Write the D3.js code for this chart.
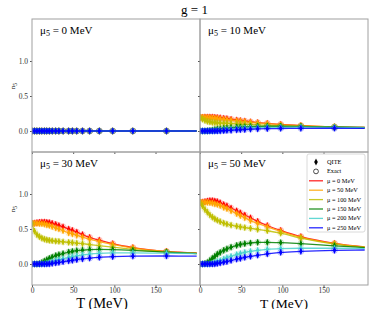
<!DOCTYPE html>
<html>
<head>
<meta charset="utf-8">
<script src="https://cdn.jsdelivr.net/npm/d3@7"></script>
<style>
  body { margin: 0; background: #fff; }
  text { font-family: "Liberation Serif", "DejaVu Serif", serif; }
</style>
</head>
<body>
<svg id="viz"></svg>
<script>
var width = 389;
var height = 309;

// temperatures (MeV) where the QITE / exact points sit; last one only closes the line
var temps = [0, 3, 6, 9, 12, 15, 18, 21, 24.5, 28.8, 32.7, 37.7, 44.5, 49, 54.4, 61.3, 70, 81.7, 98, 122.5, 163.3, 200];

var mu5Values = [0, 10, 30, 50];
var muValues = [0, 50, 100, 150, 200, 250];
var seriesColors = ["#ff0000", "#ffa500", "#bfbf00", "#008000", "#48d1cc", "#0000ff"];
var xTicks = [0, 50, 100, 150];
var yTicks = [0.0, 0.5, 1.0];

var zeroRow = [0, 0, 0, 0, 0, 0, 0, 0, 0, 0, 0, 0, 0, 0, 0, 0, 0, 0, 0, 0, 0, 0];
var n5_mu5_0 = [zeroRow, zeroRow, zeroRow, zeroRow, zeroRow, zeroRow];

var n5_mu5_10 = [
  [0.195,0.196,0.197,0.198,0.198,0.197,0.195,0.192,0.188,0.182,0.176,0.168,0.157,0.150,0.142,0.132,0.121,0.108,0.094,0.078,0.060,0.050],
  [0.195,0.195,0.194,0.192,0.190,0.187,0.183,0.179,0.174,0.168,0.162,0.155,0.146,0.140,0.133,0.125,0.115,0.104,0.091,0.076,0.059,0.050],
  [0.195,0.170,0.150,0.138,0.130,0.124,0.120,0.117,0.114,0.111,0.109,0.106,0.103,0.100,0.097,0.093,0.088,0.082,0.074,0.065,0.054,0.047],
  [0,0,0,0.002,0.007,0.013,0.020,0.026,0.032,0.038,0.043,0.048,0.054,0.057,0.060,0.063,0.066,0.068,0.068,0.065,0.057,0.050],
  [0,0,0,0,0,0.001,0.003,0.006,0.010,0.016,0.020,0.026,0.032,0.036,0.040,0.044,0.048,0.051,0.053,0.054,0.052,0.048],
  [0,0,0,0,0,0,0,0.001,0.002,0.005,0.007,0.010,0.015,0.018,0.021,0.025,0.029,0.033,0.036,0.038,0.039,0.038]
];

var n5_mu5_30 = [
  [0.580,0.585,0.590,0.595,0.600,0.600,0.595,0.590,0.580,0.565,0.550,0.530,0.500,0.480,0.455,0.420,0.380,0.340,0.290,0.235,0.180,0.157],
  [0.580,0.580,0.580,0.578,0.575,0.570,0.560,0.550,0.535,0.515,0.500,0.475,0.445,0.430,0.410,0.385,0.355,0.320,0.280,0.230,0.178,0.153],
  [0.580,0.470,0.420,0.390,0.370,0.355,0.345,0.338,0.332,0.326,0.322,0.317,0.310,0.305,0.298,0.290,0.278,0.262,0.240,0.210,0.170,0.150],
  [0,0,0,0.005,0.020,0.040,0.060,0.080,0.100,0.120,0.135,0.150,0.170,0.180,0.190,0.198,0.205,0.208,0.205,0.195,0.170,0.150],
  [0,0,0,0,0,0.003,0.010,0.020,0.032,0.048,0.060,0.075,0.095,0.105,0.117,0.130,0.142,0.152,0.158,0.160,0.155,0.148],
  [0,0,0,0,0,0,0,0.003,0.008,0.015,0.022,0.032,0.045,0.053,0.062,0.072,0.083,0.095,0.105,0.112,0.114,0.112]
];

var n5_mu5_50 = [
  [0.880,0.885,0.890,0.900,0.905,0.905,0.900,0.890,0.875,0.850,0.830,0.800,0.760,0.730,0.700,0.660,0.610,0.550,0.480,0.390,0.295,0.245],
  [0.880,0.880,0.880,0.880,0.875,0.870,0.860,0.850,0.835,0.810,0.790,0.760,0.720,0.690,0.660,0.620,0.580,0.530,0.465,0.380,0.290,0.240],
  [0.880,0.830,0.780,0.740,0.700,0.670,0.645,0.625,0.605,0.585,0.570,0.555,0.540,0.530,0.520,0.510,0.495,0.475,0.440,0.370,0.285,0.240],
  [0,0,0.005,0.020,0.050,0.080,0.110,0.140,0.165,0.195,0.215,0.240,0.265,0.280,0.290,0.300,0.310,0.310,0.305,0.290,0.260,0.235],
  [0,0,0,0,0.002,0.008,0.020,0.035,0.050,0.070,0.090,0.110,0.135,0.150,0.165,0.180,0.195,0.210,0.220,0.225,0.225,0.220],
  [0,0,0,0,0,0,0.003,0.008,0.015,0.025,0.035,0.050,0.070,0.080,0.095,0.110,0.125,0.145,0.165,0.180,0.195,0.200]
];

var panelData = [n5_mu5_0, n5_mu5_10, n5_mu5_30, n5_mu5_50];

// layout of the 2x2 grid (no gaps between panels)
var gridLeft = 32, gridTop = 19, panelW = 168, panelH = 133;

var svg = d3.select("#viz")
  .attr("width", width)
  .attr("height", height);

svg.append("text")
  .attr("x", width / 2)
  .attr("y", 14)
  .attr("text-anchor", "middle")
  .style("font-size", "13px")
  .text("g = 1");

var x = d3.scaleLinear().domain([0, 204]).range([0, panelW]);
var y = d3.scaleLinear().domain([-0.3, 1.6]).range([panelH, 0]);

var line = d3.line()
  .x((d, i) => x(temps[i]))
  .y(d => y(d))
  .curve(d3.curveMonotoneX);

var diamond = "M0,-3.6L1.8,0L0,3.6L-1.8,0Z";

mu5Values.forEach(function (mu5, p) {
  var col = p % 2, row = Math.floor(p / 2);
  var g = svg.append("g")
    .attr("transform", `translate(${gridLeft + col * panelW},${gridTop + row * panelH})`);

  g.append("defs").append("clipPath").attr("id", "clip" + p)
    .append("rect").attr("width", panelW).attr("height", panelH);

  var plot = g.append("g").attr("clip-path", `url(#clip${p})`);

  panelData[p].forEach(function (vals, s) {
    var c = seriesColors[s];
    plot.append("path")
      .datum(vals)
      .attr("fill", "none")
      .attr("stroke", c)
      .attr("stroke-opacity", 0.85)
      .attr("stroke-width", 1.3)
      .attr("d", line);

    var pts = plot.append("g").selectAll("g")
      .data(vals.slice(0, vals.length - 1))
      .join("g")
      .attr("transform", (d, i) => `translate(${x(temps[i])},${y(d)})`);
    pts.append("circle")
      .attr("r", 2.8)
      .attr("fill", "none")
      .attr("stroke", c)
      .attr("stroke-opacity", 0.25)
      .attr("stroke-width", 1.1);
    pts.append("path")
      .attr("d", diamond)
      .attr("fill", c);
  });

  // axes
  var xAxis = d3.axisBottom(x).tickValues(xTicks).tickSize(2).tickPadding(1)
    .tickFormat(row == 1 ? d3.format("d") : "");
  var xg = g.append("g").attr("transform", `translate(0,${panelH})`).call(xAxis);
  var yAxis = d3.axisLeft(y).tickValues(yTicks).tickSize(2).tickPadding(2)
    .tickFormat(col == 0 ? d3.format(".1f") : "");
  var yg = g.append("g").call(yAxis);
  [xg, yg].forEach(a => {
    a.select(".domain").remove();
    a.selectAll("line").attr("stroke", "#555");
    a.selectAll("text").attr("fill", "#333").style("font-size", "7.5px")
      .style("font-family", "Liberation Serif");
  });

  g.append("rect")
    .attr("width", panelW).attr("height", panelH)
    .attr("fill", "none").attr("stroke", "#a0a0a0").attr("stroke-width", 1);

  var lab = g.append("text").attr("x", 8).attr("y", 15).style("font-size", "11px");
  lab.append("tspan").text("\u03bc");
  lab.append("tspan").attr("dy", 2).style("font-size", "8px").text("5");
  lab.append("tspan").attr("dy", -2).text(` = ${mu5} MeV`);

  if (col == 0) {
    var yl = g.append("text")
      .attr("transform", `translate(-17,${row == 0 ? 67 : 57}) rotate(-90)`)
      .attr("text-anchor", "middle")
      .style("font-size", "7px");
    yl.append("tspan").text("n");
    yl.append("tspan").attr("dy", 1.5).style("font-size", "5.5px").text("5");
  }

  if (row == 1) {
    g.append("text")
      .attr("x", col == 0 ? 70 : 84)
      .attr("y", panelH + 22.5)
      .attr("text-anchor", "middle")
      .style("font-size", col == 0 ? "14.5px" : "13.5px")
      .text("T (MeV)");
  }

  if (p == 3) {
    var leg = g.append("g").attr("transform", "translate(107,2)");
    leg.append("rect")
      .attr("width", 58).attr("height", 78).attr("rx", 2)
      .attr("fill", "#fff").attr("fill-opacity", 0.8)
      .attr("stroke", "#d0d0d0").attr("stroke-width", 0.8);
    var rowY = i => 8 + i * 9.4;
    leg.append("path").attr("d", diamond).attr("fill", "#000")
      .attr("transform", `translate(9,${rowY(0)})`);
    leg.append("circle").attr("r", 2.4).attr("fill", "none").attr("stroke", "#000")
      .attr("stroke-width", 0.7).attr("cx", 9).attr("cy", rowY(1));
    var labels = ["QITE", "Exact"].concat(muValues.map(m => `\u03bc = ${m} MeV`));
    labels.forEach(function (t, i) {
      if (i >= 2) {
        leg.append("line")
          .attr("x1", 2).attr("x2", 16).attr("y1", rowY(i)).attr("y2", rowY(i))
          .attr("stroke", seriesColors[i - 2]).attr("stroke-opacity", 0.85).attr("stroke-width", 1.3);
      }
      leg.append("text").attr("x", 20).attr("y", rowY(i) + 2)
        .style("font-size", "6.3px").text(t);
    });
  }
});
</script>
</body>
</html>
